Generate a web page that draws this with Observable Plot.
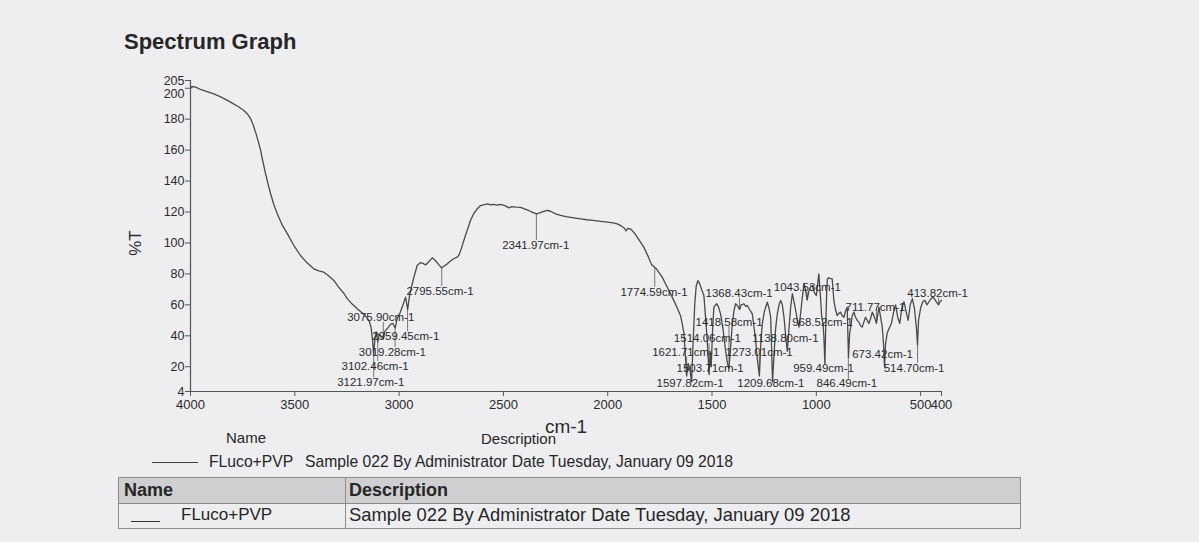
<!DOCTYPE html>
<html>
<head>
<meta charset="utf-8">
<script src="https://cdn.jsdelivr.net/npm/d3@7"></script>
<script src="https://cdn.jsdelivr.net/npm/@observablehq/plot@0.6"></script>
<style>
  html, body { margin: 0; padding: 0; background: #eeeef1; }
  #page { position: relative; width: 1199px; height: 542px; overflow: hidden;
          font-family: "Liberation Sans", Arial, sans-serif; color: #262626; }
  .abs { position: absolute; line-height: 1; white-space: nowrap; }
  #chart { position: absolute; left: 0; top: 0; }
  .title { left: 124px; top: 31px; font-size: 22px; font-weight: bold; }
  .leg { font-size: 15px; }
  .legrow { font-size: 15.7px; }
  .tbl { position: absolute; left: 118px; top: 477px; width: 901px; height: 50px;
         border: 1px solid #8c8c8c; }
  .tbl .head { position: absolute; left: 0; top: 0; width: 100%; height: 25px;
               background: #cfcfd1; border-bottom: 1px solid #8c8c8c; }
  .tbl .divider { position: absolute; left: 226px; top: 0; width: 1px; height: 100%; background: #8c8c8c; }
  .cell { position: absolute; line-height: 1; white-space: nowrap; font-size: 17px; }
</style>
</head>
<body>
<div id="page">
  <div class="abs title">Spectrum Graph</div>
  <div id="chart"></div>

  <div class="abs leg" style="left:226px; top:430px;">Name</div>
  <div class="abs leg" style="left:481px; top:431px;">Description</div>
  <div class="abs" style="left:152px; top:462px; width:46px; height:0; border-top:1px solid #444;"></div>
  <div class="abs legrow" style="left:209px; top:454px;">FLuco+PVP</div>
  <div class="abs legrow" style="left:305px; top:454px;">Sample 022 By Administrator Date Tuesday, January 09 2018</div>

  <div class="tbl">
    <div class="head"></div>
    <div class="divider"></div>
    <div class="cell" style="left:5px; top:3px; font-weight:bold; font-size:18px;">Name</div>
    <div class="cell" style="left:230px; top:3px; font-weight:bold; font-size:18px;">Description</div>
    <div class="abs" style="left:12px; top:43px; width:29px; height:0; border-top:1.5px solid #333;"></div>
    <div class="cell" style="left:62px; top:28px;">FLuco+PVP</div>
    <div class="cell" style="left:230px; top:28px; font-size:18.4px;">Sample 022 By Administrator Date Tuesday, January 09 2018</div>
  </div>
</div>

<script>
// Axis ticks
const xDomain = [4000, 400];
const yDomain = [4, 205];
const xTicks = [4000, 3500, 3000, 2500, 2000, 1500, 1000, 500, 400];
const yTicks = [4, 20, 40, 60, 80, 100, 120, 140, 160, 180, 200, 205];

// Spectrum trace: wavenumber (cm-1) and transmittance (%T)
const wavenumber = [
  4000, 3994, 3988, 3970, 3952, 3920, 3888, 3850, 3808, 3770, 3744, 3725, 3712, 3700, 3688, 3676,
  3664, 3652, 3640, 3628, 3616, 3600, 3584, 3560, 3536, 3505, 3473, 3440, 3409, 3385, 3361, 3340,
  3313, 3290, 3265, 3249, 3225, 3201, 3175, 3160, 3145, 3135, 3128, 3122, 3116, 3110, 3102, 3096,
  3088, 3076, 3068, 3055, 3040, 3030, 3019, 3010, 2995, 2985, 2969, 2959, 2950, 2940, 2929, 2913,
  2897, 2885, 2873, 2857, 2841, 2825, 2810, 2796, 2785, 2769, 2752, 2738, 2720, 2712, 2700, 2690,
  2674, 2658, 2642, 2626, 2610, 2590, 2578, 2560, 2546, 2530, 2514, 2490, 2474, 2460, 2440, 2418,
  2400, 2380, 2360, 2342, 2330, 2310, 2290, 2274, 2250, 2226, 2200, 2170, 2130, 2100, 2070, 2034,
  2000, 1975, 1954, 1935, 1920, 1912, 1904, 1890, 1870, 1850, 1827, 1805, 1790, 1780, 1775, 1768,
  1760, 1739, 1715, 1691, 1670, 1651, 1643, 1635, 1628, 1622, 1614, 1606, 1598, 1591, 1583, 1576,
  1568, 1560, 1550, 1539, 1530, 1523, 1514, 1509, 1504, 1497, 1491, 1478, 1470, 1459, 1447, 1435,
  1426, 1419, 1412, 1403, 1395, 1387, 1378, 1368, 1360, 1347, 1338, 1331, 1320, 1307, 1299, 1291,
  1283, 1273, 1265, 1259, 1250, 1243, 1235, 1227, 1219, 1214, 1210, 1204, 1195, 1187, 1179, 1171,
  1163, 1155, 1147, 1139, 1131, 1123, 1115, 1107, 1099, 1091, 1083, 1075, 1067, 1059, 1052, 1044,
  1035, 1027, 1019, 1010, 1000, 995, 988, 980, 974, 968, 964, 959, 955, 950, 947, 940,
  932, 924, 916, 908, 900, 892, 884, 876, 868, 860, 852, 846, 840, 835, 828, 820,
  812, 804, 796, 788, 780, 772, 764, 756, 748, 740, 732, 724, 716, 712, 706, 700,
  692, 684, 678, 673, 668, 660, 650, 640, 630, 620, 610, 600, 590, 580, 570, 560,
  550, 540, 530, 520, 515, 510, 500, 490, 480, 470, 460, 450, 440, 430, 420, 414,
  407, 400
];
const percentT = [
  201.5, 200.3, 201.2, 200.4, 199.2, 197.8, 196.4, 194.1, 191.0, 188.0, 185.6, 183.0, 180.3, 176.4, 171.6, 166.0,
  159.8, 152.0, 144.7, 138.0, 131.8, 124.5, 118.9, 111.5, 106.0, 98.5, 91.9, 87.0, 83.3, 82.0, 81.1, 79.0,
  75.8, 71.5, 67.5, 64.0, 60.5, 57.5, 54.5, 52.5, 50.0, 46.0, 38.0, 28.0, 38.0, 42.5, 36.0, 41.0,
  40.0, 38.0, 43.0, 45.0, 47.5, 48.0, 45.0, 51.0, 55.0, 58.6, 65.0, 57.0, 66.0, 72.0, 78.0, 85.6,
  87.3, 86.8, 85.8, 88.0, 90.4, 88.5, 86.0, 84.0, 85.0, 86.5, 88.5, 89.8, 91.0, 92.5, 97.0, 101.6,
  108.0, 114.5, 119.0, 122.0, 124.2, 124.8, 125.2, 124.6, 124.9, 124.4, 124.9, 124.0, 122.7, 123.5, 123.2, 123.0,
  122.0, 121.0, 119.8, 118.8, 119.3, 120.2, 121.0, 120.5, 118.8, 117.8, 117.0, 116.4, 115.6, 115.0, 114.6, 114.0,
  113.5, 113.0, 112.3, 111.0, 109.5, 107.8, 109.5, 109.0, 106.0, 102.0, 97.3, 91.0, 86.0, 85.0, 84.0, 83.6,
  82.0, 77.9, 71.5, 65.0, 59.0, 53.0, 47.8, 42.0, 28.0, 14.0, 22.0, 18.0, 10.0, 35.0, 60.0, 72.0,
  75.7, 74.0, 70.0, 66.0, 50.0, 37.0, 15.0, 30.0, 20.0, 45.0, 58.5, 60.7, 59.0, 54.2, 44.0, 30.5,
  22.0, 19.0, 30.0, 47.8, 56.0, 60.7, 59.5, 57.0, 60.0, 60.7, 59.0, 59.6, 57.0, 54.2, 46.0, 37.0,
  25.0, 14.0, 38.0, 47.8, 55.0, 58.5, 61.7, 58.0, 52.0, 30.0, 10.0, 25.0, 45.0, 54.2, 60.0, 62.8,
  60.0, 52.0, 40.0, 30.0, 45.0, 58.5, 67.2, 62.0, 56.4, 50.0, 45.6, 55.0, 65.0, 73.6, 70.0, 63.0,
  69.3, 72.0, 72.5, 68.0, 66.0, 72.0, 80.0, 65.0, 52.0, 48.0, 40.0, 22.0, 45.0, 70.0, 76.8, 77.5,
  77.0, 76.8, 62.8, 57.0, 53.0, 54.5, 55.3, 53.0, 52.0, 56.0, 58.5, 26.0, 42.0, 45.6, 53.0, 55.3,
  52.0, 50.0, 48.8, 46.5, 45.6, 49.0, 52.0, 50.0, 48.0, 51.0, 55.3, 53.0, 49.9, 48.0, 53.0, 58.5,
  52.0, 45.6, 35.0, 20.0, 35.0, 42.0, 45.0, 48.0, 55.0, 60.0, 52.0, 48.0, 58.0, 62.0, 56.0, 50.0,
  60.0, 64.0, 58.0, 45.0, 34.0, 50.0, 58.0, 62.0, 63.0, 60.0, 62.0, 64.0, 65.0, 63.0, 61.0, 60.0,
  62.0, 63.0
];

// Picked peaks: position (cm-1) and %T at the peak
const peakWn = [3121.97, 3102.46, 3075.90, 3019.28, 2959.45, 2795.55, 2341.97, 1774.59,
  1621.71, 1597.82, 1514.06, 1503.71, 1418.58, 1368.43, 1273.01, 1209.68, 1138.80,
  1043.53, 968.52, 959.49, 846.49, 711.77, 673.42, 514.70, 413.82];
const peakT = [28, 36, 38, 45, 57, 84, 118.8, 84,
  14, 10, 15, 20, 19, 57, 14, 10, 30,
  63, 48, 22, 26, 48, 20, 34, 60];
// Where each peak's label sits (cm-1, %T of the label's middle)
const labelWn = [3297, 3276, 3249, 3193, 3129, 2965, 2506, 1939,
  1787, 1766, 1683, 1670, 1579, 1531, 1435, 1379, 1307,
  1204, 1116, 1111, 999, 860, 828, 677, 564];
const labelT = [10, 20.4, 51.7, 29.4, 39.6, 68.9, 98.5, 68.3,
  29.4, 9.6, 38.1, 18.7, 48.9, 67.2, 29.4, 9.6, 38.1,
  71.1, 48.9, 19.3, 9, 58.6, 28, 19.3, 67.2];

const spectrum = wavenumber.map((w, i) => ({w, t: percentT[i]}));
const peaks = peakWn.map((w, i) => ({
  w, t: peakT[i], lw: labelWn[i], lt: labelT[i],
  text: w.toFixed(2) + "cm-1",
  end: labelT[i] < peakT[i] ? labelT[i] + 3 : labelT[i] - 3
}));

const ink = "#2b2b2b";
const chart = Plot.plot({
  width: 1199,
  height: 445,
  marginLeft: 190,
  marginRight: 258,
  marginTop: 80,
  marginBottom: 54,
  x: {domain: xDomain},
  y: {domain: yDomain},
  style: {background: "transparent", color: ink, fontFamily: "'Liberation Sans', Arial, sans-serif", fontSize: "13px"},
  marks: [
    Plot.ruleY([yDomain[0]], {stroke: "#555", strokeWidth: 1.2}),
    Plot.ruleX([xDomain[0]], {stroke: "#555", strokeWidth: 1.2}),
    Plot.axisX({ticks: xTicks, tickSize: 5, tickPadding: 3, label: null, fontSize: 13, stroke: "#555",
      tickFormat: d => String(d)}),
    Plot.axisY({ticks: yTicks, tickSize: 5, tickPadding: 1, label: null, fontSize: 12.5, stroke: "#555",
      tickFormat: d => d === 200 ? "" : String(d)}),
    Plot.axisY({ticks: [200], tickSize: 0, tickPadding: 6, dy: 6, label: null, fontSize: 12.5}),
    Plot.ruleX(peaks, {x: "w", y1: "t", y2: "end", stroke: "#777", strokeWidth: 1}),
    Plot.line(spectrum, {x: "w", y: "t", stroke: "#4a4a4a", strokeWidth: 1.3, curve: "linear"}),
    Plot.text(peaks, {x: "lw", y: "lt", text: "text", textAnchor: "start", lineAnchor: "middle",
      fontSize: 11.5, fill: ink}),
    Plot.text(["%T"], {frameAnchor: "left", dx: -54.5, dy: 7, rotate: -90, fontSize: 17,
      textAnchor: "middle", lineAnchor: "middle", fill: ink}),
    Plot.text(["cm-1"], {frameAnchor: "bottom", dy: 35, fontSize: 19,
      textAnchor: "middle", lineAnchor: "middle", fill: ink})
  ]
});
document.getElementById("chart").append(chart);
</script>
</body>
</html>
